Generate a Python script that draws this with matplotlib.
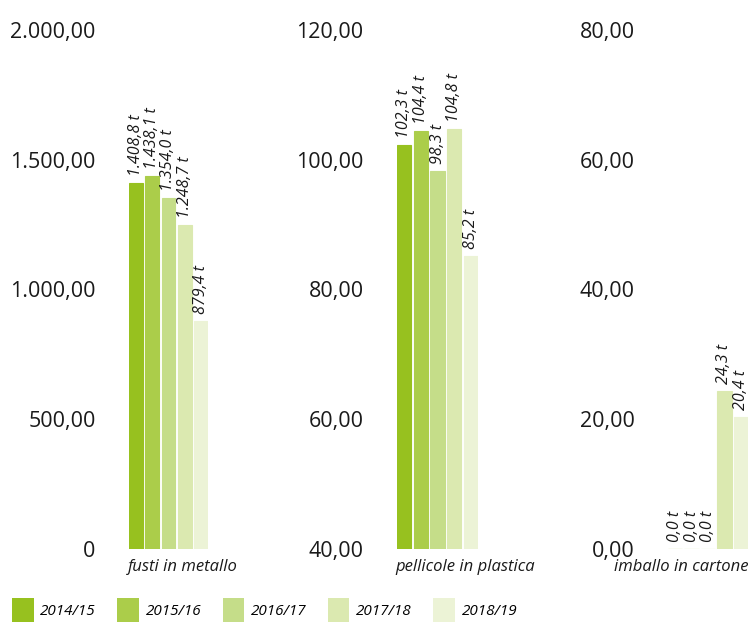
import numpy as np
import matplotlib
matplotlib.use("Agg")
import matplotlib.pyplot as plt
from matplotlib.patches import Patch

plt.rcParams["font.family"] = ["Open Sans", "DejaVu Sans"]

# dati
anni = ["2014/15", "2015/16", "2016/17", "2017/18", "2018/19"]
colori = ["#97c11f", "#abcd4a", "#c5dd89", "#dbe9b0", "#ecf3d6"]

categorie = ["fusti in metallo", "pellicole in plastica", "imballo in cartone"]
fusti = [1408.8, 1438.1, 1354.0, 1248.7, 879.4]
pellicole = [102.3, 104.4, 98.3, 104.8, 85.2]
cartone = [0.0, 0.0, 0.0, 24.3, 20.4]

limiti = [(0, 2000), (40, 120), (0, 80)]
ticks = [
    [0, 500, 1000, 1500, 2000],
    [40, 60, 80, 100, 120],
    [0, 20, 40, 60, 80],
]
tick_labels = [
    ["0", "500,00", "1.000,00", "1.500,00", "2.000,00"],
    ["40,00", "60,00", "80,00", "100,00", "120,00"],
    ["0,00", "20,00", "40,00", "60,00", "80,00"],
]
serie = [fusti, pellicole, cartone]


def formato_it(v):
    s = f"{v:,.1f}"
    return s.replace(",", "X").replace(".", ",").replace("X", ".") + " t"


W, H = 750, 630
fig = plt.figure(figsize=(W / 100, H / 100), dpi=100)

# posizioni in pixel (sinistra, destra) delle aree delle barre
aree = [(129, 208), (397, 478), (668, 748)]
y_base, y_top = 549, 30
testo = "#1a1a1a"

for i, (x0, x1) in enumerate(aree):
    ax = fig.add_axes([x0 / W, (H - y_base) / H, (x1 - x0) / W, (y_base - y_top) / H])
    valori = serie[i]
    lo, hi = limiti[i]
    x = np.arange(len(valori))
    ax.bar(x, np.array(valori) - lo, bottom=lo, width=0.86, color=colori,
           edgecolor=colori, linewidth=0.8)
    for xi, v in zip(x, valori):
        ax.annotate(formato_it(v), (xi, max(v, lo)), xytext=(0, 5),
                    textcoords="offset points", rotation=90, ha="center",
                    va="bottom", fontsize=11.5, style="italic", color=testo)
    ax.set_xlim(-0.43, len(valori) - 0.57)
    ax.set_ylim(lo, hi)
    ax.set_xticks([])
    ax.set_yticks(ticks[i])
    ax.set_yticklabels(tick_labels[i])
    ax.tick_params(axis="y", length=0, pad=24, labelsize=15.5, labelcolor=testo)
    for s in ax.spines.values():
        s.set_visible(False)
    ax.patch.set_visible(False)
    if i < 2:
        ax.annotate(categorie[i], (0, 0), xycoords="axes fraction", xytext=(-1, -13),
                    textcoords="offset points", ha="left", va="center",
                    fontsize=12, style="italic", color=testo)
    else:
        ax.annotate(categorie[i], (1, 0), xycoords="axes fraction", xytext=(0, -13),
                    textcoords="offset points", ha="right", va="center",
                    fontsize=12, style="italic", color=testo)

handles = [Patch(facecolor=c, edgecolor="none") for c in colori]
fig.legend(handles, anni, loc="lower left", bbox_to_anchor=(0.004, -0.002), ncol=5,
           frameon=False, handlelength=1.4, handleheight=2.0, handletextpad=0.45,
           columnspacing=1.4, prop={"size": 11, "style": "italic"},
           borderaxespad=0.2)

fig.savefig("out.png", dpi=100)
